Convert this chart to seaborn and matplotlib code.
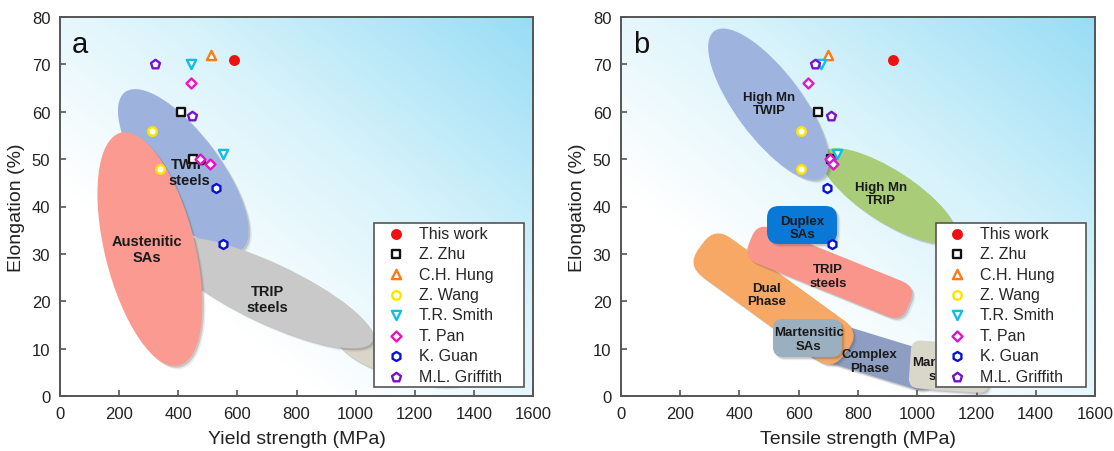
import numpy as np
import matplotlib
matplotlib.use('Agg')
import matplotlib.pyplot as plt
import matplotlib.transforms as mtransforms
from matplotlib.patches import Ellipse, FancyBboxPatch
from matplotlib.colors import LinearSegmentedColormap
import seaborn as sns

sns.set_theme(style='white')
plt.rcParams['font.family'] = ['Liberation Sans', 'DejaVu Sans']

DPI = 100

# authors, in legend order
authors = ['This work', 'Z. Zhu', 'C.H. Hung', 'Z. Wang', 'T.R. Smith', 'T. Pan', 'K. Guan', 'M.L. Griffith']
colors = ['#ee1111', '#111111', '#ff7a12', '#ffe400', '#12bde6', '#e812c8', '#0a12d2', '#7412d0']
markers = ['o', 's', '^', 'o', 'v', 'D', 'h', 'p']
sizes = [38, 26, 44, 38, 44, 26, 42, 46]

# (a) yield strength (MPa) vs elongation (%)
yield_x = [[590], [410, 450], [510], [312, 338], [442, 552], [442, 475, 507], [529, 551], [322, 448]]
yield_y = [[71], [60, 50], [72], [56, 48], [70, 51], [66, 50, 49], [44, 32], [70, 59]]

# (b) tensile strength (MPa) vs elongation (%)
tensile_x = [[919], [665, 710], [699], [606, 609], [674, 729], [632, 705, 716], [696, 711], [656, 710]]
tensile_y = [[71], [60, 50], [72], [56, 48], [70, 51], [66, 50, 49], [44, 32], [70, 59]]

# property regions: (label, centre x, centre y)
regions_a = [('Martensitic\nsteels', 1150, 7.5), ('TWIP\nsteels', 417, 47.5),
             ('TRIP\nsteels', 704, 21.8), ('Austenitic\nSAs', 304, 31)]
regions_b = [('Complex\nPhase', 840, 8.8), ('Martensitic\nsteels', 1110, 6.2),
             ('Dual\nPhase', 515, 20.5), ('Martensitic\nSAs', 629.5, 12.25),
             ('TRIP\nsteels', 704, 26.1), ('Duplex\nSAs', 611, 36.1),
             ('High Mn\nTRIP', 901, 42.3), ('High Mn\nTWIP', 498, 61.6)]

# shape styles (kind, length px, width px, angle, corner radius px, colour)
shapes_a = [('ell', 130, 34, -18, 0, '#d9d5c8'), ('ell', 196, 74, -53.6, 0, '#9db3de'),
            ('ell', 230, 60, -25, 0, '#c9c9c9'), ('ell', 240, 90, 104, 0, '#fa9a90')]
shapes_b = [('box', 135, 40, -17, 16, '#8e9dc2'), ('box', 80, 48, -4, 10, '#d9d6ca'),
            ('box', 180, 48, -36, 20, '#f6a864'), ('box', 69, 38, 0, 10, '#9aafc0'),
            ('box', 171, 38, -22, 15, '#fa958c'), ('box', 70, 38, 0, 12, '#0a78d6'),
            ('ell', 156, 52, -32.6, 0, '#a8cc78'), ('ell', 182, 66, -53.4, 0, '#9fb3df')]

# where the labels sit
label_pos_a = {'Austenitic\nSAs': (293, 31), 'TWIP\nsteels': (438, 47.3), 'TRIP\nsteels': (702, 20.5)}
label_pos_b = {'Complex\nPhase': (839, 7.4), 'Dual\nPhase': (491, 21.4), 'Martensitic\nSAs': (634, 12),
               'TRIP\nsteels': (699, 25.3), 'Duplex\nSAs': (612, 35.5), 'High Mn\nTRIP': (878, 42.7),
               'High Mn\nTWIP': (500, 61.7), 'Martensitic\nsteels': (1100, 5.7)}

fig = plt.figure(figsize=(11.14, 4.52), dpi=DPI)
ax_a = fig.add_axes([60 / 1114, 55 / 452, 473 / 1114, 379 / 452])
ax_b = fig.add_axes([621 / 1114, 55 / 452, 474 / 1114, 379 / 452])

bg_cmap = LinearSegmentedColormap.from_list('bg', [(0, '#ffffff'), (0.28, '#ffffff'),
                                                   (0.62, '#d8f3fb'), (1, '#98ddf5')])
u, v = np.meshgrid(np.linspace(0, 1, 300), np.linspace(0, 1, 300))
grad = (u + v) / 2


def place(ax, cx, cy, ang, off=0.0):
    return (mtransforms.Affine2D().rotate_deg(ang).translate(off, -off).scale(1 / DPI)
            + fig.dpi_scale_trans + mtransforms.ScaledTranslation(cx, cy, ax.transData))


def make_patch(kind, length, width, r, **kw):
    if kind == 'ell':
        return Ellipse((0, 0), length, width, **kw)
    return FancyBboxPatch((-length / 2, -width / 2), length, width,
                          boxstyle=f'round,pad=0,rounding_size={r}', mutation_aspect=1, **kw)


def draw_panel(ax, xs, ys, regions, shapes, label_pos, label_fs, xlabel, letter):
    ax.imshow(grad, extent=[0, 1600, 0, 80], origin='lower', aspect='auto',
              cmap=bg_cmap, zorder=0, interpolation='bilinear')
    ax.set_xlim(0, 1600)
    ax.set_ylim(0, 80)

    for (name, cx, cy), (kind, L, W, ang, r, col) in zip(regions, shapes):
        for off, al in [(3.2, 0.10), (1.8, 0.22)]:
            ax.add_patch(make_patch(kind, L, W, r, transform=place(ax, cx, cy, ang, off),
                                    facecolor='#4a4a4a', edgecolor='none', alpha=al, zorder=1))
        ax.add_patch(make_patch(kind, L, W, r, transform=place(ax, cx, cy, ang),
                                facecolor=col, edgecolor='none', zorder=1))

    for name, (tx, ty) in label_pos.items():
        ax.text(tx, ty, name, ha='center', va='center', fontsize=label_fs,
                fontweight='bold', color='#1a1a1a', zorder=4, linespacing=1.15)

    for name, c, m, s, x, y in zip(authors, colors, markers, sizes, xs, ys):
        fc = c if name == 'This work' else 'white'
        sns.scatterplot(x=x, y=y, ax=ax, marker=m, s=s, facecolor=fc, edgecolor=c,
                        linewidth=1.7, label=name, zorder=6)

    ax.set_xticks(np.arange(0, 1601, 200))
    ax.set_yticks(np.arange(0, 81, 10))
    ax.tick_params(direction='in', length=4, width=1.2, color='#555555', labelsize=12,
                   labelcolor='#222222', pad=7, bottom=True, left=True)
    for sp in ax.spines.values():
        sp.set_color('#555555')
        sp.set_linewidth(1.4)
    ax.set_xlabel(xlabel, fontsize=14, color='#222222', labelpad=7)
    ax.set_ylabel('Elongation (%)', fontsize=14, color='#222222', labelpad=5)
    ax.text(0.043, 0.93, letter, transform=ax.transAxes, ha='center', va='center',
            fontsize=21, color='#111111', zorder=7)

    leg = ax.legend(loc='lower left', bbox_to_anchor=(0.664, 0.024, 0.318, 0.435), mode='expand',
                    borderaxespad=0, frameon=True, fancybox=False, fontsize=11.5,
                    handlelength=2.3, handletextpad=0.3, borderpad=0.2, labelspacing=0.34)
    leg.get_frame().set_edgecolor('#555555')
    leg.get_frame().set_linewidth(1.2)
    leg.get_frame().set_alpha(1)
    leg.set_zorder(10)


draw_panel(ax_a, yield_x, yield_y, regions_a, shapes_a, label_pos_a, 10.5,
           'Yield strength (MPa)', 'a')
draw_panel(ax_b, tensile_x, tensile_y, regions_b, shapes_b, label_pos_b, 9.5,
           'Tensile strength (MPa)', 'b')

fig.savefig('out.png', dpi=DPI)
